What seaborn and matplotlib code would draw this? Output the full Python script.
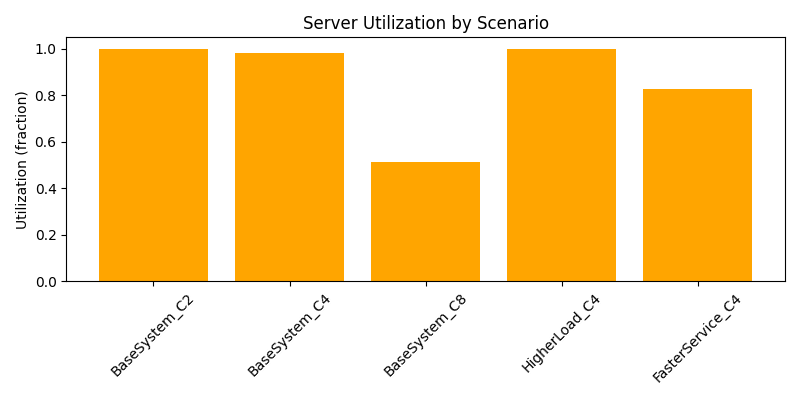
import pandas as pd
import seaborn as sns
import matplotlib.pyplot as plt

scenarios = ["BaseSystem_C2", "BaseSystem_C4", "BaseSystem_C8", "HigherLoad_C4", "FasterService_C4"]
utilization = [0.999, 0.983, 0.512, 0.998, 0.827]

df = pd.DataFrame({"scenario": scenarios, "utilization": utilization})

fig, ax = plt.subplots(figsize=(8, 4), dpi=100)
sns.barplot(data=df, x="scenario", y="utilization", color="orange",
            saturation=1, width=0.8, ax=ax)
ax.set_title("Server Utilization by Scenario")
ax.set_xlabel("")
ax.set_ylabel("Utilization (fraction)")
ax.tick_params(axis="x", rotation=45)
# plain matplotlib margins instead of seaborn's categorical limits
ax.set_xlim(-0.64, len(scenarios) - 0.36)
plt.tight_layout()
plt.savefig("out.png")
